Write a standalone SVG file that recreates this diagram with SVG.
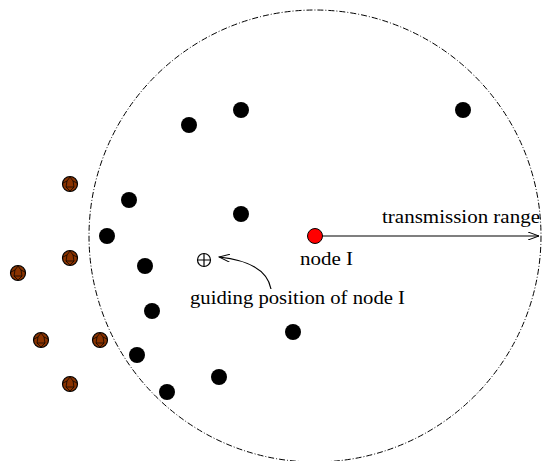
<svg xmlns="http://www.w3.org/2000/svg" width="543" height="461" viewBox="0 0 543 461">
<style>
.b{fill:#000}
.o{fill:#8a3300;stroke:#000;stroke-width:1.2}
.ol{fill:none;stroke:#000;stroke-width:0.7}
.t{font-family:"Liberation Serif",serif;font-size:19px;fill:#000}
.ln{fill:none;stroke:#000;stroke-width:1.2}
</style>
<defs>
<marker id="ah" viewBox="0 0 12 8" refX="11" refY="4" markerWidth="12" markerHeight="8" markerUnits="userSpaceOnUse" orient="auto">
<path d="M0,0 L11,4 L0,8" fill="none" stroke="#000" stroke-width="1"/>
</marker>
<g id="brown">
<circle r="7.5" class="o"/>
<path class="ol" d="M-7,-1 L-3,-3 L0,-7 L3,-3 L7,-1 M-3,-3 L-4,3 L0,7 L4,3 L3,-3 M-4,3 L4,3"/>
</g>
</defs>
<circle cx="315" cy="236" r="226" fill="none" stroke="#000" stroke-width="1" stroke-dasharray="6,2,1,2"/>
<g id="connectors">
<line x1="315" y1="236" x2="539" y2="236" class="ln" marker-end="url(#ah)"/>
<path d="M271,289 Q266,262 219,257" class="ln" marker-end="url(#ah)"/>
</g>
<g id="outside">
<use href="#brown" x="70" y="184"/>
<use href="#brown" x="70" y="258"/>
<use href="#brown" x="18" y="273"/>
<use href="#brown" x="41" y="340"/>
<use href="#brown" x="100" y="340"/>
<use href="#brown" x="70" y="384"/>
</g>
<g id="neighbors">
<circle class="b" cx="189" cy="125" r="8"/>
<circle class="b" cx="241" cy="110" r="8"/>
<circle class="b" cx="463" cy="110" r="8"/>
<circle class="b" cx="129" cy="200" r="8"/>
<circle class="b" cx="241" cy="214" r="8"/>
<circle class="b" cx="107" cy="236" r="8"/>
<circle class="b" cx="145" cy="266" r="8"/>
<circle class="b" cx="152" cy="311" r="8"/>
<circle class="b" cx="293" cy="332" r="8"/>
<circle class="b" cx="137" cy="355" r="8"/>
<circle class="b" cx="219" cy="377" r="8"/>
<circle class="b" cx="167" cy="392" r="8"/>
</g>
<g id="nodeI">
<circle cx="315" cy="236" r="7.5" fill="#f00" stroke="#000" stroke-width="1"/>
<text class="t" x="300" y="265" textLength="53" lengthAdjust="spacingAndGlyphs">node I</text>
</g>
<g id="guide">
<circle cx="204" cy="260" r="6.5" fill="none" stroke="#000" stroke-width="1.2"/>
<path d="M197.5,260 H210.5 M204,253.5 V266.5" class="ln"/>
<text class="t" x="190" y="304" textLength="215" lengthAdjust="spacingAndGlyphs">guiding position of node I</text>
</g>
<text class="t" x="382" y="223" textLength="158" lengthAdjust="spacingAndGlyphs">transmission range</text>
</svg>
